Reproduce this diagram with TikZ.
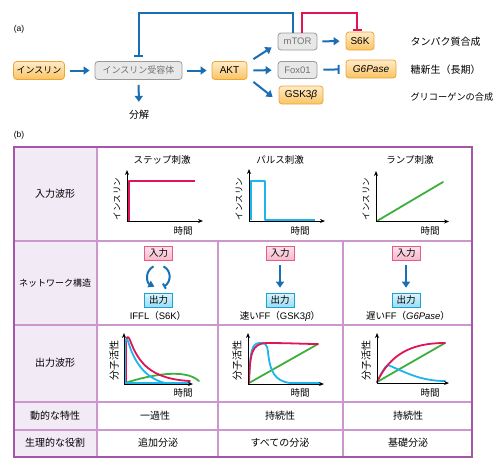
\documentclass[tikz,border=0pt]{standalone}
\usepackage{fontspec}
\setmainfont{Noto Sans CJK JP}
\newfontfamily\lsans{Liberation Sans}
\usetikzlibrary{arrows.meta}
\definecolor{ablue}{RGB}{25,110,180}
\definecolor{ared}{RGB}{225,20,85}
\definecolor{acyan}{RGB}{30,180,236}
\definecolor{agreen}{RGB}{60,175,60}
\definecolor{pborder}{RGB}{165,85,170}
\definecolor{pline}{RGB}{205,150,205}
\definecolor{pfill}{RGB}{242,234,245}
\definecolor{oborder}{RGB}{240,165,50}
\definecolor{otop}{RGB}{254,236,200}
\definecolor{obot}{RGB}{250,195,100}
\begin{document}
\begin{tikzpicture}[x=1pt,y=-1pt,
  obox/.style={draw=oborder, line width=0.8pt, rounded corners=3pt, top color=otop, bottom color=obot, minimum height=18pt, inner xsep=3pt, inner ysep=0pt, font=\fontsize{9}{10}\selectfont},
  gbox/.style={draw=black!40, line width=0.8pt, rounded corners=3pt, fill=black!9, text=black!55, minimum height=18pt, inner xsep=3pt, inner ysep=0pt, font=\fontsize{9}{10}\selectfont},
  inbox/.style={draw=ared!70, line width=0.7pt, top color=ared!12, bottom color=ared!30, minimum width=28pt, minimum height=14pt, inner sep=0pt, font=\fontsize{9.5}{10}\selectfont},
  outbox/.style={draw=acyan!90!black, line width=0.7pt, top color=acyan!15, bottom color=acyan!45, minimum width=28pt, minimum height=14pt, inner sep=0pt, font=\fontsize{9.5}{10}\selectfont},
  barrow/.style={draw=ablue, line width=2pt, -{Triangle[width=8pt,length=6pt]}},
  binh/.style={draw=ablue, line width=2pt, -{Bar[width=9pt,line width=2pt]}},
  rinh/.style={draw=ared, line width=2pt, -{Bar[width=9pt,line width=2pt]}},
  axis/.style={draw=black, line width=1pt, -{Stealth[length=5pt,width=4pt]}},
  crv/.style={line width=1.8pt, line cap=round, line join=round},
  lbl/.style={font=\fontsize{10}{11}\selectfont},
  ylab/.style={rotate=90, font=\fontsize{8.5}{10}\selectfont},
  ylabb/.style={rotate=90, font=\fontsize{10}{11}\selectfont},
  tlab/.style={font=\fontsize{9.5}{10}\selectfont},
  rlab/.style={anchor=west, font=\fontsize{10}{11}\selectfont},
]
\useasboundingbox (0,0) rectangle (500,475);

% ---------- (a) ----------
\node[font=\lsans\fontsize{8.5}{9}\selectfont] (la) at (19,29) {(a)};
\node[obox, minimum width=50pt] (ins) at (39,70.5) {インスリン};
\node[gbox, minimum width=87pt] (rec) at (138.5,70.5) {インスリン受容体};
\node[obox, minimum width=35pt, font=\lsans\fontsize{10}{11}\selectfont] (akt) at (229.5,70.5) {AKT};
\node[gbox, minimum width=39pt, minimum height=17pt, font=\lsans\fontsize{9.5}{11}\selectfont] (mtor) at (297.5,41.5) {mTOR};
\node[gbox, minimum width=39pt, minimum height=17pt, font=\lsans\fontsize{9.5}{11}\selectfont] (fox) at (297.5,70) {Fox01};
\node[obox, minimum width=44pt, font=\lsans\fontsize{10}{11}\selectfont] (gsk) at (301,95) {GSK3\textit{β}};
\node[obox, minimum width=28pt, font=\lsans\fontsize{10}{11}\selectfont] (s6k) at (360,41) {S6K};
\node[obox, minimum width=50pt, font=\lsans\fontsize{10}{11}\selectfont] (g6p) at (371,69) {\textit{G6Pase}};
\node[font=\fontsize{10}{11}\selectfont] (bunkai) at (139,115) {分解};
\node[rlab] (t1) at (407,42) {タンパク質合成};
\node[rlab] (t2) at (407,70) {糖新生（長期）};
\node[rlab, font=\fontsize{9.2}{11}\selectfont] (t3) at (407,97) {グリコーゲンの合成};
\coordinate (ctop) at (0,13);

\draw[barrow, shorten <=5pt, shorten >=5pt] (ins) -- (rec);
\draw[barrow, shorten <=5pt, shorten >=5pt] (rec) -- (akt);
\draw[barrow, shorten <=5pt, shorten >=5pt] (rec) -- (bunkai);
\draw[binh, shorten >=4pt] ([xshift=-4.5pt]mtor.north) -- ([xshift=-4.5pt]mtor.north |- ctop) -| (rec.north);
\draw[rinh, shorten >=1pt] ([xshift=4.5pt]mtor.north) -- ([xshift=4.5pt]mtor.north |- ctop) -| ([xshift=-3pt]s6k.north);
\draw[barrow] ([xshift=6pt,yshift=2pt]akt.north east) -- ([xshift=-6pt,yshift=3pt]mtor.south west);
\draw[barrow, shorten <=6pt, shorten >=6pt] (akt) -- (fox);
\draw[barrow] ([xshift=6pt,yshift=-2pt]akt.south east) -- ([xshift=-6pt,yshift=-2pt]gsk.west);
\draw[barrow, shorten <=5pt, shorten >=6pt] (mtor) -- (s6k);
\draw[binh, shorten <=6pt, shorten >=6pt] (fox) -- (g6p);

% ---------- (b) ----------
\node[font=\lsans\fontsize{8.5}{9}\selectfont] (lb) at (19,135) {(b)};
\fill[pfill] (14,147) rectangle (97,457);
\foreach \yy in {241,325,402,430} \draw[pline, line width=1.3pt] (14,\yy) -- (472,\yy);
\draw[pline, line width=1.1pt] (97,147) -- (97,457);
\draw[pline, line width=1.1pt] (218,241) -- (218,457);
\draw[pline, line width=1.1pt] (343,241) -- (343,457);
\draw[pborder, line width=2pt] (14,147) rectangle (472,457);

\node[lbl] (r1) at (55,194) {入力波形};
\node[lbl, font=\fontsize{9}{10}\selectfont] (r2) at (55,283) {ネットワーク構造};
\node[lbl] (r3) at (55,363) {出力波形};
\node[lbl] (r4) at (55,416) {動的な特性};
\node[lbl] (r5) at (55,443) {生理的な役割};

% row 1 input waveforms
\node[tlab] (h1) at (162,160) {ステップ刺激};
\node[tlab] (h2) at (280,160) {パルス刺激};
\node[tlab] (h3) at (410,160) {ランプ刺激};
\draw[ared, crv, line cap=butt] (129,221) -- (129,181) -- (195,181);
\draw[axis] (127,221) -- (127,170);
\draw[axis] (127,221) -- (203,221);
\node[ylab] (y1) at (117,199) {インスリン};
\node[tlab] (x1) at (183,231) {時間};

\draw[acyan, crv, line cap=butt] (251,220) -- (251,181) -- (265,181) -- (265,220) -- (315,220);
\draw[axis] (249,221) -- (249,169);
\draw[axis] (249,221) -- (325,221);
\node[ylab] (y2) at (239,199) {インスリン};
\node[tlab] (x2) at (300,231) {時間};

\draw[agreen, crv] (377,221) -- (443,182);
\draw[axis] (376,221.5) -- (376,171);
\draw[axis] (376,221.5) -- (449,221.5);
\node[ylab] (y3) at (366,199) {インスリン};
\node[tlab] (x3) at (430,231) {時間};

% row 2 networks
\node[inbox] (in1) at (158.5,253) {入力};
\node[outbox] (out1) at (158.5,300) {出力};
\node[tlab] (c1) at (158,316) {{\lsans IFFL}（{\lsans S6K}）};
\draw[ablue, line width=2pt, -{Triangle[width=7pt,length=6pt]}] ([xshift=-5pt,yshift=-6pt]in1.south) .. controls +(-9,5) and +(-8,-4) .. ([xshift=-4pt,yshift=6pt]out1.north);
\draw[ablue, line width=2pt, -{Bar[width=6pt,line width=2pt]}] ([xshift=5pt,yshift=-6pt]in1.south) .. controls +(9,5) and +(7,-4) .. ([xshift=5pt,yshift=6pt]out1.north);

\node[inbox] (in2) at (280,253) {入力};
\node[outbox] (out2) at (280,300) {出力};
\node[tlab] (c2) at (280,316) {速い{\lsans FF}（{\lsans GSK3\textit{β}}）};
\draw[barrow, shorten <=5pt, shorten >=5pt] (in2) -- (out2);

\node[inbox] (in3) at (406,253) {入力};
\node[outbox] (out3) at (406,300) {出力};
\node[tlab] (c3) at (408,316) {遅い{\lsans FF}（{\lsans\textit{G6Pase}}）};
\draw[barrow, shorten <=5pt, shorten >=5pt] (in3) -- (out3);

% row 3 outputs
\draw[agreen, crv] (125,383) .. controls (150,375) and (185,368) .. (199,381);
\draw[ared, crv] (126,383) -- (126,345) .. controls (126,336) and (128,335) .. (130,340) .. controls (138,362) and (150,379) .. (190,381);
\draw[acyan, crv] (190,383) -- (165,383) .. controls (145,378) and (134,362) .. (128,341) .. controls (127,338) and (125,340) .. (125,345) -- (125,383) -- (165,383);
\draw[axis] (124,384) -- (124,333);
\draw[axis] (124,384) -- (193,384);
\node[ylabb] (y4) at (114,360) {分子活性};
\node[tlab] (x4) at (183,393) {時間};

\draw[agreen, crv] (249,383) -- (318,344);
\draw[acyan, crv] (320,383) -- (290,383) .. controls (275,381) and (270,372) .. (268,352) .. controls (267,344) and (265,342) .. (259,343) .. controls (252,344) and (250,350) .. (249,383);
\draw[ared, crv] (249,383) .. controls (250,352) and (252,344) .. (266,343) .. controls (290,343) and (305,344) .. (318,344);
\draw[axis] (248,384) -- (248,333);
\draw[axis] (248,384) -- (324,384);
\node[ylabb] (y5) at (237,360) {分子活性};
\node[tlab] (x5) at (300,393) {時間};

\draw[agreen, crv] (377,382) -- (445,343);
\draw[acyan, crv] (377,382) .. controls (382,372) and (385,366) .. (388,365) .. controls (405,372) and (420,381) .. (445,381);
\draw[ared, crv] (377,382) .. controls (390,355) and (410,343) .. (445,343);
\draw[axis] (377,383) -- (377,333);
\draw[axis] (377,383) -- (449,383);
\node[ylabb] (y6) at (366,360) {分子活性};
\node[tlab] (x6) at (430,393) {時間};

% rows 4, 5
\node[lbl] (d1) at (155,416) {一過性};
\node[lbl] (d2) at (280,416) {持続性};
\node[lbl] (d3) at (408,416) {持続性};
\node[lbl] (e1) at (158,443) {追加分泌};
\node[lbl] (e2) at (280,443) {すべての分泌};
\node[lbl] (e3) at (408,443) {基礎分泌};
\end{tikzpicture}
\end{document}
